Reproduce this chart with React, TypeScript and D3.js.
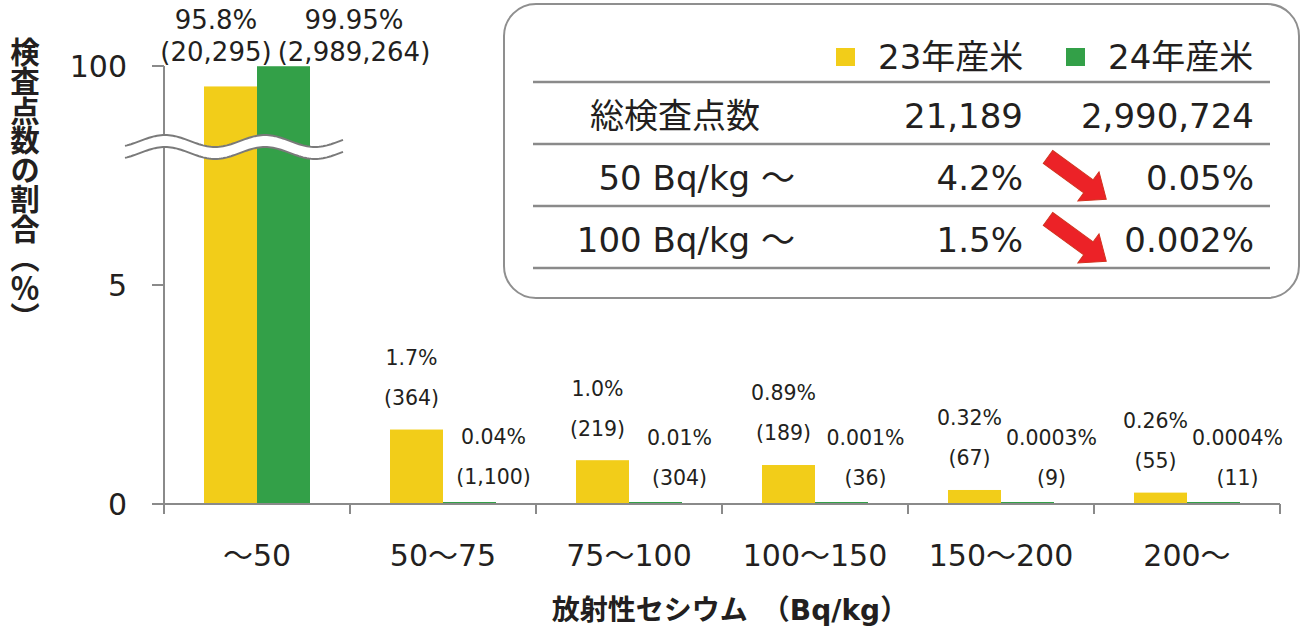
import React from "react";
import * as d3 from "d3";

const categories = ["〜50", "50〜75", "75〜100", "100〜150", "150〜200", "200〜"];
const seriesNames = ["23年産米", "24年産米"];
const pct23 = [95.8, 1.7, 1.0, 0.89, 0.32, 0.26];
const pct24 = [99.95, 0.04, 0.01, 0.001, 0.0003, 0.0004];
const pctLabel23 = ["95.8%", "1.7%", "1.0%", "0.89%", "0.32%", "0.26%"];
const pctLabel24 = ["99.95%", "0.04%", "0.01%", "0.001%", "0.0003%", "0.0004%"];
const count23 = [20295, 364, 219, 189, 67, 55];
const count24 = [2989264, 1100, 304, 36, 9, 11];
const yTicks = [0, 5, 100];

const tableRows = ["総検査点数", "50 Bq/kg ～", "100 Bq/kg ～"];
const table23 = ["21,189", "4.2%", "1.5%"];
const table24 = ["2,990,724", "0.05%", "0.002%"];

const FONT = "'DejaVu Sans', 'Noto Sans CJK JP', sans-serif";
const TXT = "#231f20";
const AXIS = "#8a8a8a";
const COLORS = ["#f2cd19", "#33a048"];

const W = 1304;
const H = 632;
const left = 164;
const right = 1280;
const y0px = 504;

export default function App() {
  const x0 = d3.scaleBand<string>().domain(categories).range([left, right]).padding(0);
  const groupW = 106;
  const x1 = d3
    .scaleBand<string>()
    .domain(seriesNames)
    .range([(x0.bandwidth() - groupW) / 2, (x0.bandwidth() + groupW) / 2]);
  // broken axis: 0–5 linear, upper segment compressed so 100 lands at the top
  const y = d3.scaleLinear().domain([0, 5, 55, 100]).range([y0px, 285, 285, 66]);

  const values = [pct23, pct24];
  const counts = [count23, count24];
  const pctLabels = [pctLabel23, pctLabel24];
  const fmt = d3.format(",");

  // break wave
  const waveX = d3.range(125, 344, 2);
  const period = 100;
  const crest = 165;
  const upper = (x: number) => 141 - 6 * Math.cos((2 * Math.PI * (x - crest)) / period);
  const line = d3.line<[number, number]>();
  const upPts: [number, number][] = waveX.map((x) => [x, upper(x)]);
  const loPts: [number, number][] = waveX.map((x) => [x, upper(x) + 12]);
  const fillPath = line([...upPts, ...loPts.slice().reverse()]) + "Z";

  const arrowL = 72;
  const arrowH = 22;
  const arrowPts = [
    [0, -8],
    [arrowL - arrowH, -8],
    [arrowL - arrowH, -18],
    [arrowL, 0],
    [arrowL - arrowH, 18],
    [arrowL - arrowH, 8],
    [0, 8],
  ]
    .map((p) => p.join(","))
    .join(" ");

  const lineYs = [82, 144, 206, 268];
  const rowCenters = [116, 178, 240];

  return (
    <svg
      width={W}
      height={H}
      style={{ position: "absolute", left: 0, top: 0, background: "#fff" }}
      fontFamily={FONT}
    >
      {/* bars */}
      {categories.map((c, i) => (
        <g key={c} transform={`translate(${x0(c)},0)`}>
          {seriesNames.map((s, k) => {
            const v = values[k][i];
            const top = Math.min(y(v), y0px - 2);
            return (
              <rect
                key={s}
                x={x1(s)}
                y={top}
                width={x1.bandwidth()}
                height={y0px - top}
                fill={COLORS[k]}
              />
            );
          })}
        </g>
      ))}

      {/* axes */}
      <line x1={left} x2={left} y1={y(100)} y2={y0px + 10} stroke={AXIS} strokeWidth={2} />
      <line x1={left - 12} x2={right} y1={y0px} y2={y0px} stroke={AXIS} strokeWidth={2} />
      {yTicks.map((t) => (
        <g key={t}>
          <line x1={left - 12} x2={left} y1={y(t)} y2={y(t)} stroke={AXIS} strokeWidth={2} />
          <text x={127} y={y(t)} dy="0.36em" textAnchor="end" fontSize={30} fill={TXT}>
            {t}
          </text>
        </g>
      ))}
      {[...categories.map((c) => x0(c)!), right].map((bx, i) => (
        <line key={i} x1={bx} x2={bx} y1={y0px} y2={y0px + 10} stroke={AXIS} strokeWidth={2} />
      ))}
      {categories.map((c) => (
        <text
          key={c}
          x={x0(c)! + x0.bandwidth() / 2}
          y={555}
          dy="0.36em"
          textAnchor="middle"
          fontSize={30}
          fill={TXT}
        >
          {c}
        </text>
      ))}

      {/* axis break */}
      <path d={fillPath} fill="#fff" stroke="none" />
      <path d={line(upPts)!} fill="none" stroke="#7a7a7a" strokeWidth={2} />
      <path d={line(loPts)!} fill="none" stroke="#7a7a7a" strokeWidth={2} />

      {/* data labels */}
      {categories.map((c, i) =>
        seriesNames.map((s, k) => {
          const v = values[k][i];
          const cx = x0(c)! + x1(s)! + x1.bandwidth() / 2;
          const groupC = x0(c)! + x0.bandwidth() / 2;
          let lx: number, ly1: number, ly2: number, fs: number;
          if (v > 5) {
            lx = groupC + (k === 0 ? -41 : 97);
            ly1 = y(100) - 46;
            ly2 = y(100) - 14;
            fs = 26;
          } else if (k === 0) {
            lx = cx - 5;
            ly1 = y(v) - 72;
            ly2 = y(v) - 32;
            fs = 20.5;
          } else {
            lx = cx + 24;
            ly1 = y(v) - 66;
            ly2 = y(v) - 26;
            fs = 20.5;
          }
          return (
            <g key={c + s} fontSize={fs} fill={TXT} textAnchor="middle">
              <text x={lx} y={ly1} dy="0.36em">
                {pctLabels[k][i]}
              </text>
              <text x={lx} y={ly2} dy="0.36em">
                {`(${fmt(counts[k][i])})`}
              </text>
            </g>
          );
        })
      )}

      {/* y title */}
      <text
        x={25}
        y={37}
        fontSize={29.5}
        fontWeight="bold"
        fill={TXT}
        style={{ writingMode: "vertical-rl", textOrientation: "mixed" } as any}
        fontFamily="'Noto Sans CJK JP', sans-serif"
      >
        検査点数の割合（％）
      </text>

      {/* x title */}
      <text x={730} y={610} dy="0.36em" textAnchor="middle" fontSize={28} fontWeight="bold" fill={TXT}>
        放射性セシウム　（Bq/kg）
      </text>

      {/* summary box */}
      <rect x={504} y={4} width={795} height={294} rx={32} fill="#fff" stroke="#8f8f8f" strokeWidth={2} />
      {lineYs.map((ly) => (
        <line key={ly} x1={533} x2={1270} y1={ly} y2={ly} stroke="#8a8a8a" strokeWidth={2.5} />
      ))}
      {seriesNames.map((s, k) => (
        <g key={s}>
          <rect x={k === 0 ? 836 : 1066} y={48} width={19} height={18} fill={COLORS[k]} />
          <text x={k === 0 ? 878 : 1108} y={57} dy="0.36em" fontSize={34} fill={TXT}>
            {s}
          </text>
        </g>
      ))}
      {tableRows.map((r, i) => (
        <g key={r} fontSize={34} fill={TXT}>
          <text
            x={i === 0 ? 590 : 795}
            y={rowCenters[i]}
            dy="0.36em"
            textAnchor={i === 0 ? "start" : "end"}
          >
            {r}
          </text>
          <text x={1023} y={rowCenters[i]} dy="0.36em" textAnchor="end">
            {table23[i]}
          </text>
          <text x={1254} y={rowCenters[i]} dy="0.36em" textAnchor="end">
            {table24[i]}
          </text>
        </g>
      ))}
      {rowCenters.slice(1).map((rc, i) => (
        <polygon
          key={i}
          points={arrowPts}
          transform={`translate(1048,${rc - 21}) rotate(36)`}
          fill="#ec2227"
          stroke="#d2321f"
          strokeWidth={1}
        />
      ))}
    </svg>
  );
}
